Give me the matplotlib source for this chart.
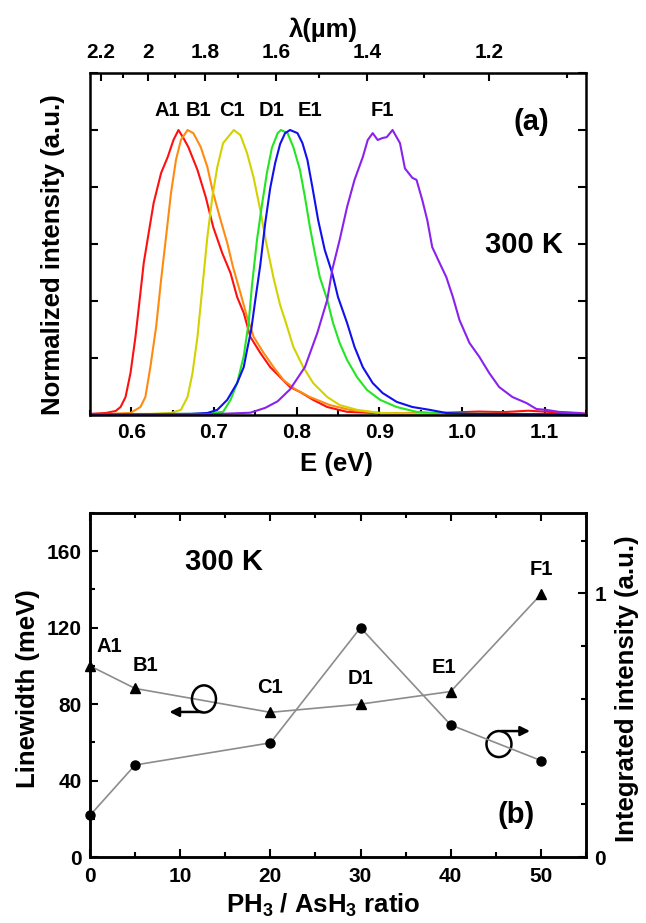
import numpy as np
import matplotlib
matplotlib.use("Agg")
from matplotlib import pyplot as plt
from matplotlib.patches import Ellipse
from matplotlib.ticker import MultipleLocator, NullFormatter

plt.rcParams["font.family"] = ["Liberation Sans", "DejaVu Sans"]
plt.rcParams["font.weight"] = "bold"
plt.rcParams["axes.labelweight"] = "bold"
plt.rcParams["mathtext.fontset"] = "custom"
plt.rcParams["mathtext.bf"] = "Liberation Sans:bold"
plt.rcParams["mathtext.default"] = "bf"

# ---- panel (a): PL spectra, energy (eV) vs normalized intensity ----
a1_E = [0.551, 0.569, 0.581, 0.587, 0.593, 0.599, 0.605, 0.611, 0.615, 0.621, 0.627, 0.636,
        0.644, 0.651, 0.657, 0.663, 0.669, 0.680, 0.690, 0.699, 0.710, 0.720, 0.728, 0.736,
        0.744, 0.756, 0.768, 0.780, 0.792, 0.804, 0.820, 0.837, 0.861, 0.892, 0.950, 1.020,
        1.050, 1.080, 1.110, 1.148]
a1_I = [0.004, 0.007, 0.014, 0.028, 0.063, 0.147, 0.274, 0.428, 0.533, 0.639, 0.744, 0.849,
        0.905, 0.965, 1.000, 0.972, 0.940, 0.860, 0.765, 0.660, 0.568, 0.498, 0.414, 0.358,
        0.274, 0.218, 0.168, 0.133, 0.098, 0.081, 0.053, 0.028, 0.011, 0.007, 0.005, 0.012,
        0.010, 0.015, 0.010, 0.005]

b1_E = [0.551, 0.575, 0.599, 0.611, 0.617, 0.623, 0.630, 0.636, 0.642, 0.648, 0.654, 0.660,
        0.668, 0.675, 0.684, 0.692, 0.699, 0.708, 0.716, 0.723, 0.732, 0.740, 0.748, 0.760,
        0.772, 0.784, 0.798, 0.816, 0.840, 0.864, 0.901, 0.985, 1.148]
b1_I = [0.003, 0.004, 0.007, 0.028, 0.063, 0.168, 0.309, 0.474, 0.625, 0.779, 0.895, 0.965,
        1.000, 0.989, 0.940, 0.870, 0.779, 0.684, 0.604, 0.519, 0.428, 0.344, 0.274, 0.218,
        0.168, 0.123, 0.091, 0.063, 0.035, 0.018, 0.007, 0.004, 0.003]

c1_E = [0.551, 0.623, 0.648, 0.660, 0.668, 0.674, 0.680, 0.686, 0.692, 0.698, 0.704, 0.711,
        0.724, 0.732, 0.740, 0.748, 0.756, 0.763, 0.772, 0.780, 0.786, 0.796, 0.808, 0.820,
        0.837, 0.852, 0.873, 0.901, 0.949, 1.148]
c1_I = [0.003, 0.004, 0.007, 0.018, 0.063, 0.147, 0.274, 0.449, 0.625, 0.765, 0.870, 0.954,
        1.000, 0.982, 0.919, 0.832, 0.719, 0.607, 0.481, 0.386, 0.333, 0.239, 0.168, 0.112,
        0.063, 0.035, 0.018, 0.007, 0.004, 0.003]

d1_E = [0.551, 0.684, 0.711, 0.720, 0.728, 0.736, 0.742, 0.746, 0.752, 0.758, 0.764, 0.770,
        0.777, 0.781, 0.789, 0.796, 0.804, 0.810, 0.816, 0.822, 0.828, 0.837, 0.844, 0.852,
        0.861, 0.873, 0.885, 0.901, 0.921, 0.945, 0.969, 1.009, 1.148]
d1_I = [0.002, 0.004, 0.011, 0.053, 0.112, 0.207, 0.326, 0.456, 0.614, 0.737, 0.849, 0.937,
        0.989, 1.000, 0.989, 0.940, 0.860, 0.765, 0.660, 0.568, 0.484, 0.404, 0.323, 0.253,
        0.193, 0.133, 0.088, 0.053, 0.028, 0.011, 0.007, 0.004, 0.002]

e1_E = [0.551, 0.672, 0.692, 0.704, 0.716, 0.728, 0.736, 0.740, 0.745, 0.750, 0.756, 0.762,
        0.768, 0.774, 0.780, 0.786, 0.792, 0.801, 0.807, 0.813, 0.819, 0.826, 0.834, 0.843,
        0.850, 0.861, 0.870, 0.880, 0.892, 0.904, 0.921, 0.940, 0.961, 0.981, 1.009, 1.148]
e1_I = [0.002, 0.004, 0.007, 0.018, 0.053, 0.112, 0.168, 0.228, 0.298, 0.404, 0.526, 0.674,
        0.796, 0.884, 0.951, 0.989, 1.000, 0.989, 0.954, 0.895, 0.800, 0.684, 0.579, 0.498,
        0.414, 0.323, 0.239, 0.168, 0.112, 0.077, 0.046, 0.028, 0.018, 0.007, 0.004, 0.002]

f1_E = [0.551, 0.700, 0.744, 0.762, 0.777, 0.792, 0.810, 0.825, 0.837, 0.843, 0.852, 0.861,
        0.870, 0.880, 0.886, 0.892, 0.898, 0.904, 0.909, 0.916, 0.925, 0.931, 0.940, 0.945,
        0.952, 0.958, 0.964, 0.973, 0.981, 0.989, 0.997, 1.009, 1.021, 1.033, 1.045, 1.061,
        1.078, 1.090, 1.102, 1.117, 1.142, 1.149]
f1_I = [0.003, 0.003, 0.008, 0.025, 0.048, 0.090, 0.168, 0.288, 0.404, 0.509, 0.614, 0.730,
        0.825, 0.905, 0.965, 0.989, 0.965, 0.972, 0.975, 1.000, 0.954, 0.865, 0.832, 0.825,
        0.754, 0.684, 0.589, 0.533, 0.484, 0.414, 0.333, 0.253, 0.204, 0.147, 0.098, 0.063,
        0.042, 0.021, 0.018, 0.011, 0.007, 0.004]

spectra = [(a1_E, a1_I), (b1_E, b1_I), (c1_E, c1_I), (d1_E, d1_I), (e1_E, e1_I), (f1_E, f1_I)]
spec_colors = ["#ff1010", "#ff8a10", "#d2d200", "#22e622", "#1010ee", "#8a22ee"]
spec_names = ["A1", "B1", "C1", "D1", "E1", "F1"]
name_E = [0.643, 0.681, 0.722, 0.770, 0.816, 0.904]

lam_major = [2.2, 2.0, 1.8, 1.6, 1.4, 1.2]
lam_labels = ["2.2", "2", "1.8", "1.6", "1.4", "1.2"]
lam_minor = [2.1, 1.9, 1.7, 1.5, 1.3, 1.1]

# ---- panel (b): linewidth and integrated intensity vs PH3/AsH3 ratio ----
ratio = [0, 5, 20, 30, 40, 50]
linewidth = [100.0, 88.2, 75.7, 80.0, 86.6, 137.4]
integrated = [0.158, 0.349, 0.433, 0.870, 0.501, 0.366]
pt_names = ["A1", "B1", "C1", "D1", "E1", "F1"]
pt_label_xy = [(2.1, 109.9), (6.1, 100.0), (19.9, 88.6), (30.0, 93.2), (39.3, 98.9), (50.0, 150.3)]

TICK_FS = 15
AXLAB_FS = 18.5
NAME_FS = 14.5
BIG_FS = 21


def style_ticks(ax):
    ax.tick_params(which="both", direction="in", width=1.5, labelsize=TICK_FS)
    ax.tick_params(which="major", length=6)
    ax.tick_params(which="minor", length=3.5)
    for s in ax.spines.values():
        s.set_linewidth(1.8)


fig = plt.figure(figsize=(6.46, 9.23), dpi=100)

# panel (a)
ax = fig.add_axes([0.1393, 0.5504, 0.7678, 0.3705])
for (E, I), col in zip(spectra, spec_colors):
    ax.plot(E, I, color=col, lw=1.5)
ax.set_xlim(0.55, 1.15)
ax.set_ylim(0, 1.2)
ax.xaxis.set_major_locator(MultipleLocator(0.1))
ax.xaxis.set_minor_locator(MultipleLocator(0.05))
ax.yaxis.set_major_locator(MultipleLocator(0.2))
ax.yaxis.set_major_formatter(NullFormatter())
ax.tick_params(axis="y", which="both", left=True, right=True)
ax.tick_params(axis="x", which="both", top=False, pad=6)
style_ticks(ax)
ax.set_xlabel("E (eV)", fontsize=AXLAB_FS)
ax.xaxis.set_label_coords(0.496, -0.108)
ax.set_ylabel("Normalized intensity (a.u.)", fontsize=AXLAB_FS)
ax.yaxis.set_label_coords(-0.05, 0.47)
for nm, e in zip(spec_names, name_E):
    ax.text(e, 1.07, nm, ha="center", va="center", fontsize=NAME_FS)
ax.text(1.084, 1.028, "(a)", ha="center", va="center", fontsize=BIG_FS)
ax.text(1.075, 0.596, "300 K", ha="center", va="center", fontsize=BIG_FS)

# wavelength axis on top (lambda = 1.2398 / E)
sec = ax.secondary_xaxis("top", functions=(lambda e: 1.2398 / np.maximum(e, 1e-3),
                                            lambda l: 1.2398 / np.maximum(l, 1e-3)))
sec.set_xticks(lam_major, labels=lam_labels)
sec.set_xticks(lam_minor, minor=True)
sec.tick_params(which="both", direction="in", width=1.5, labelsize=TICK_FS, pad=8)
sec.tick_params(which="major", length=6)
sec.tick_params(which="minor", length=3.5)
sec.set_xlabel("λ(µm)", fontsize=AXLAB_FS)
sec.xaxis.set_label_coords(0.47, 1.105, transform=ax.transAxes)

# panel (b)
axb = fig.add_axes([0.1393, 0.0715, 0.7678, 0.3727])
axb.plot(ratio, linewidth, color="#8c8c8c", lw=1.2, marker="^", ms=7,
         mfc="black", mec="black", clip_on=False, zorder=3)
axb.set_xlim(0, 55)
axb.set_ylim(0, 180)
axb.xaxis.set_major_locator(MultipleLocator(10))
axb.xaxis.set_minor_locator(MultipleLocator(5))
axb.yaxis.set_major_locator(MultipleLocator(40))
axb.yaxis.set_minor_locator(MultipleLocator(20))
axb.tick_params(axis="x", which="both", top=True, pad=7)
axb.tick_params(axis="y", pad=6)
style_ticks(axb)
axb.set_xlabel("PH$_3$ / AsH$_3$ ratio", fontsize=AXLAB_FS)
axb.xaxis.set_label_coords(0.47, -0.1)
axb.set_ylabel("Linewidth (meV)", fontsize=AXLAB_FS)
axb.yaxis.set_label_coords(-0.1, 0.49)
for nm, (x, y) in zip(pt_names, pt_label_xy):
    axb.text(x, y, nm, ha="center", va="center", fontsize=NAME_FS)
axb.text(14.9, 154.5, "300 K", ha="center", va="center", fontsize=BIG_FS)
axb.text(47.3, 21.9, "(b)", ha="center", va="center", fontsize=BIG_FS)

# loop-and-arrow markers telling which axis each curve belongs to
axb.add_patch(Ellipse((12.64, 82.7), 2.66, 14.2, fill=False, lw=1.8, ec="black", zorder=4))
axb.annotate("", xy=(8.5, 75.9), xytext=(12.7, 75.9),
             arrowprops=dict(arrowstyle="-|>", lw=1.8, color="black", mutation_scale=14))
axb.add_patch(Ellipse((45.35, 59.1), 2.77, 13.6, fill=False, lw=1.8, ec="black", zorder=4))
axb.annotate("", xy=(49.1, 65.9), xytext=(45.3, 65.9),
             arrowprops=dict(arrowstyle="-|>", lw=1.8, color="black", mutation_scale=14))

ax2 = axb.twinx()
ax2.plot(ratio, integrated, color="#8c8c8c", lw=1.2, marker="o", ms=6.5,
         mfc="black", mec="black", clip_on=False, zorder=3)
ax2.set_ylim(0, 1.305)
ax2.set_yticks([0, 1], labels=["0", "1"])
ax2.yaxis.set_minor_locator(MultipleLocator(0.2))
style_ticks(ax2)
ax2.tick_params(axis="y", pad=6)
ax2.set_ylabel("Integrated intensity (a.u.)", fontsize=AXLAB_FS)
ax2.yaxis.set_label_coords(1.058, 0.49)

fig.savefig("out.png", dpi=100)
